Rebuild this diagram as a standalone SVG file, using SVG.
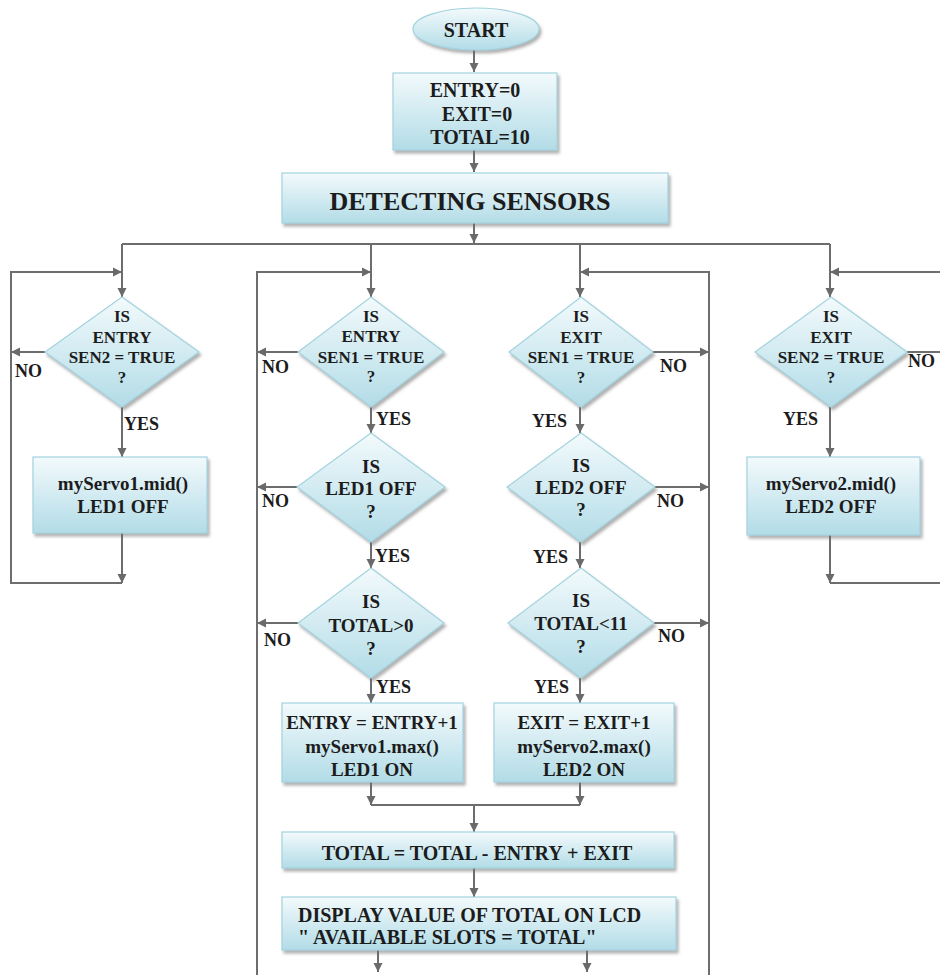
<svg xmlns="http://www.w3.org/2000/svg" width="940" height="975" viewBox="0 0 940 975" font-family="'Liberation Serif', 'DejaVu Serif', 'Times New Roman', serif">
<defs>
<linearGradient id="g" x1="0" y1="0" x2="0" y2="1">
<stop offset="0" stop-color="#f3fafc"/>
<stop offset="1" stop-color="#b2dce7"/>
</linearGradient>
<filter id="sh" x="-10%" y="-10%" width="130%" height="140%">
<feDropShadow dx="2" dy="3" stdDeviation="1.5" flood-color="#6f6f6f" flood-opacity="0.55"/>
</filter>
<marker id="a" markerUnits="userSpaceOnUse" markerWidth="10" markerHeight="10" refX="9" refY="5" orient="auto">
<path d="M0,0.5 L9,5 L0,9.5 z" fill="#6a6a6a"/>
</marker>
<style>
.s{fill:url(#g);stroke:#a3d3df;stroke-width:1.2;filter:url(#sh)}
.c{fill:none;stroke:#6d6d6d;stroke-width:2}
.ca{fill:none;stroke:#6d6d6d;stroke-width:2;marker-end:url(#a)}
text{font-family:'Liberation Serif','DejaVu Serif','Times New Roman',serif;font-weight:bold;fill:#1c1c1c}
.t{text-anchor:middle}
.d{font-size:17px;text-anchor:middle}
.d2{font-size:19px;text-anchor:middle}
.b{font-size:19px;text-anchor:middle}
.l{font-size:18px}
</style>
</defs>

<g id="connectors">
<path class="ca" d="M474,50 L474,72"/>
<path class="ca" d="M474,150 L474,172"/>
<path class="ca" d="M474,223 L474,243"/>
<path class="c" d="M122,244 L830,244"/>
<path class="ca" d="M122,244 L122,297"/>
<path class="ca" d="M371,244 L371,297"/>
<path class="ca" d="M580,244 L580,297"/>
<path class="ca" d="M830,244 L830,297"/>
<path class="ca" d="M45,352 L11,352"/>
<path class="ca" d="M122,407 L122,457"/>
<path class="ca" d="M122,533 L122,583"/>
<path class="ca" d="M122,583 L11,583 L11,272 L122,272"/>
<path class="ca" d="M257,975 L257,272 L371,272"/>
<path class="ca" d="M298,352 L257,352"/>
<path class="ca" d="M297,487 L257,487"/>
<path class="ca" d="M298,623 L257,623"/>
<path class="ca" d="M371,407 L371,433"/>
<path class="ca" d="M371,542 L371,568"/>
<path class="ca" d="M371,678 L371,703"/>
<path class="ca" d="M709,975 L709,272 L580,272"/>
<path class="ca" d="M653,352 L709,352"/>
<path class="ca" d="M654,487 L709,487"/>
<path class="ca" d="M654,623 L709,623"/>
<path class="ca" d="M580,407 L580,433"/>
<path class="ca" d="M580,542 L580,568"/>
<path class="ca" d="M580,678 L580,703"/>
<path class="ca" d="M940,272 L830,272"/>
<path class="c" d="M907,352 L940,352"/>
<path class="ca" d="M830,407 L830,457"/>
<path class="ca" d="M830,535 L830,583"/>
<path class="c" d="M830,583 L940,583"/>
<path class="ca" d="M371,782 L371,805"/>
<path class="ca" d="M580,782 L580,805"/>
<path class="c" d="M371,805 L580,805"/>
<path class="ca" d="M474,805 L474,832"/>
<path class="ca" d="M474,868 L474,897"/>
<path class="ca" d="M378,950 L378,972"/>
<path class="ca" d="M587,950 L587,972"/>
</g>

<g id="labels">
<text class="l" x="15" y="377">NO</text>
<text class="l" x="262" y="373">NO</text>
<text class="l" x="660" y="372">NO</text>
<text class="l" x="908" y="367">NO</text>
<text class="l" x="262" y="507">NO</text>
<text class="l" x="657" y="507">NO</text>
<text class="l" x="264" y="646">NO</text>
<text class="l" x="658" y="642">NO</text>
<text class="l" x="124" y="430">YES</text>
<text class="l" x="376" y="425">YES</text>
<text class="l" x="532" y="427">YES</text>
<text class="l" x="783" y="425">YES</text>
<text class="l" x="375" y="562">YES</text>
<text class="l" x="533" y="563">YES</text>
<text class="l" x="376" y="693">YES</text>
<text class="l" x="534" y="693">YES</text>
</g>

<g id="start">
<ellipse class="s" cx="476" cy="29" rx="63" ry="21"/>
<text class="t" x="476" y="37" font-size="20">START</text>
</g>

<g id="init">
<rect class="s" x="393" y="73" width="164" height="77"/>
<text class="t" x="475" y="97" font-size="20">ENTRY=0</text>
<text class="t" x="477" y="121" font-size="20">EXIT=0</text>
<text class="t" x="480" y="144" font-size="20">TOTAL=10</text>
</g>

<g id="detect">
<rect class="s" x="282" y="173" width="386" height="50"/>
<text class="t" x="470" y="210" font-size="26">DETECTING SENSORS</text>
</g>

<g id="q-entry-sen2">
<polygon class="s" points="122,297 199,352 122,407 45,352"/>
<text class="d" x="122" y="322">IS</text>
<text class="d" x="122" y="343">ENTRY</text>
<text class="d" x="122" y="363">SEN2 = TRUE</text>
<text class="d" x="122" y="383">?</text>
</g>

<g id="servo1-mid">
<rect class="s" x="33" y="457" width="174" height="76"/>
<text class="b" x="123" y="490">myServo1.mid()</text>
<text class="b" x="123" y="513">LED1 OFF</text>
</g>

<g id="q-entry-sen1">
<polygon class="s" points="371,297 444,352 371,407 298,352"/>
<text class="d" x="371" y="322">IS</text>
<text class="d" x="371" y="342">ENTRY</text>
<text class="d" x="371" y="363">SEN1 = TRUE</text>
<text class="d" x="371" y="382">?</text>
</g>

<g id="q-exit-sen1">
<polygon class="s" points="581,297 653,352 581,407 509,352"/>
<text class="d" x="581" y="322">IS</text>
<text class="d" x="581" y="343">EXIT</text>
<text class="d" x="581" y="363">SEN1 = TRUE</text>
<text class="d" x="581" y="383">?</text>
</g>

<g id="q-exit-sen2">
<polygon class="s" points="831,297 907,352 831,407 755,352"/>
<text class="d" x="831" y="322">IS</text>
<text class="d" x="831" y="343">EXIT</text>
<text class="d" x="831" y="363">SEN2 = TRUE</text>
<text class="d" x="831" y="383">?</text>
</g>

<g id="servo2-mid">
<rect class="s" x="747" y="457" width="173" height="78"/>
<text class="b" x="831" y="490">myServo2.mid()</text>
<text class="b" x="831" y="513">LED2 OFF</text>
</g>

<g id="q-led1">
<polygon class="s" points="371,433 445,487 371,542 297,487"/>
<text class="d2" x="371" y="473">IS</text>
<text class="d2" x="371" y="495">LED1 OFF</text>
<text class="d2" x="371" y="518">?</text>
</g>

<g id="q-led2">
<polygon class="s" points="581,433 655,487 581,542 507,487"/>
<text class="d2" x="581" y="472">IS</text>
<text class="d2" x="581" y="494">LED2 OFF</text>
<text class="d2" x="581" y="516">?</text>
</g>

<g id="q-total-gt0">
<polygon class="s" points="371,568 444,623 371,678 298,623"/>
<text class="d2" x="371" y="608">IS</text>
<text class="d2" x="371" y="632">TOTAL&gt;0</text>
<text class="d2" x="371" y="655">?</text>
</g>

<g id="q-total-lt11">
<polygon class="s" points="581,568 654,623 581,678 508,623"/>
<text class="d2" x="581" y="607">IS</text>
<text class="d2" x="581" y="630">TOTAL&lt;11</text>
<text class="d2" x="581" y="653">?</text>
</g>

<g id="entry-inc">
<rect class="s" x="282" y="703" width="181" height="79"/>
<text class="b" x="372" y="729">ENTRY = ENTRY+1</text>
<text class="b" x="372" y="753">myServo1.max()</text>
<text class="b" x="372" y="776">LED1 ON</text>
</g>

<g id="exit-inc">
<rect class="s" x="494" y="703" width="180" height="79"/>
<text class="b" x="584" y="729">EXIT = EXIT+1</text>
<text class="b" x="584" y="753">myServo2.max()</text>
<text class="b" x="584" y="776">LED2 ON</text>
</g>

<g id="total-calc">
<rect class="s" x="282" y="832" width="392" height="36"/>
<text class="t" x="477" y="860" font-size="20">TOTAL = TOTAL - ENTRY + EXIT</text>
</g>

<g id="display">
<rect class="s" x="282" y="897" width="394" height="53"/>
<text x="298" y="922" font-size="20">DISPLAY VALUE OF TOTAL ON LCD</text>
<text x="298" y="944" font-size="20">" AVAILABLE SLOTS = TOTAL"</text>
</g>
</svg>
